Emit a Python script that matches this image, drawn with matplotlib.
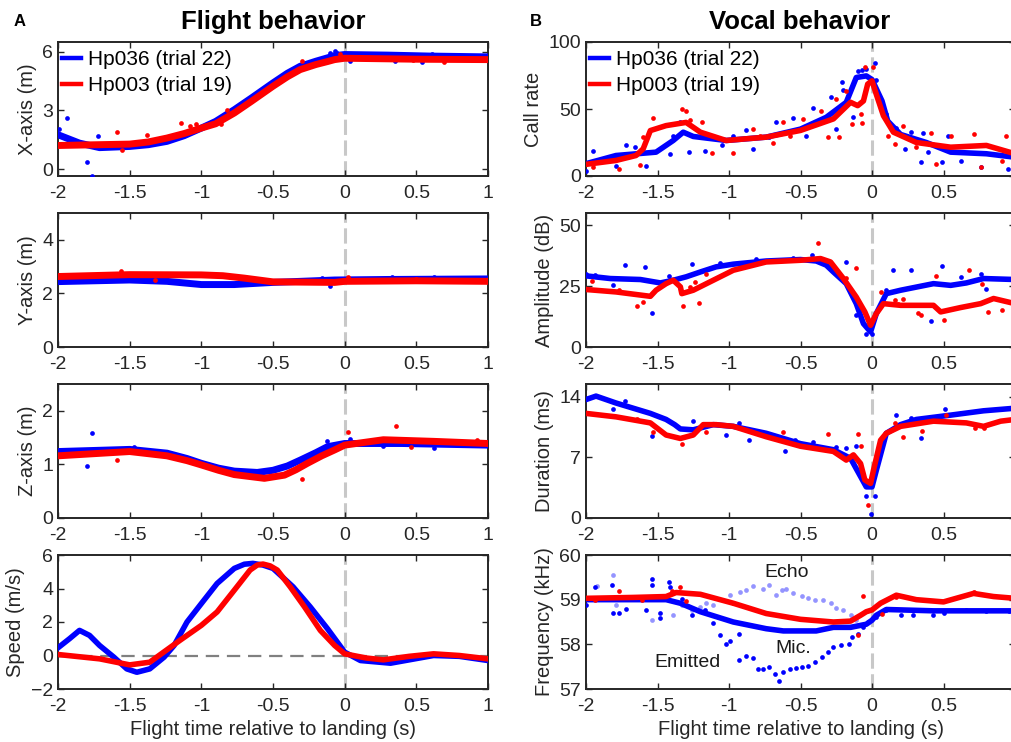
import numpy as np
import matplotlib.pyplot as plt

plt.rcParams['font.family'] = ['Liberation Sans', 'DejaVu Sans']
plt.rcParams['font.size'] = 14

BLUE = '#0000ff'
RED = '#ff0000'
INK = '#262626'

# ---------------- Flight behavior ----------------
# X-axis (m)
xpos_b_t = [-2.0, -1.85, -1.71, -1.5, -1.37, -1.24, -1.12, -1.0, -0.9, -0.77, -0.65, -0.5, -0.4, -0.31, -0.2, -0.12,
            -0.07, 0.0, 0.3, 0.6, 1.0]
xpos_b = [1.76, 1.33, 1.1, 1.16, 1.25, 1.42, 1.71, 2.1, 2.44, 3.04, 3.64, 4.41, 4.9, 5.26, 5.52, 5.69,
          5.8, 5.86, 5.83, 5.78, 5.74]
xpos_r_t = [-2.0, -1.5, -1.37, -1.24, -1.12, -1.0, -0.9, -0.77, -0.65, -0.5, -0.4, -0.31, -0.2, -0.12, -0.07, 0.0,
            0.5, 1.0]
xpos_r = [1.21, 1.28, 1.39, 1.59, 1.82, 2.1, 2.32, 2.87, 3.47, 4.24, 4.72, 5.09, 5.35, 5.5, 5.6, 5.67,
          5.62, 5.6]
xdot_b_t = [-1.99, -1.94, -1.80, -1.76, -1.72, -0.10, -0.07, -0.05, 0.04, 0.35, 0.54, 0.61, 0.79, 0.98]
xdot_b = [2.05, 2.6, 0.36, -0.34, 1.72, 5.95, 6.03, 5.95, 5.52, 5.55, 5.5, 5.9, 5.7, 5.75]
xdot_r_t = [-1.59, -1.55, -1.38, -1.14, -1.08, -1.04, -0.86, -0.82, -0.30, -0.03, 0.48, 0.69]
xdot_r = [1.9, 0.99, 1.76, 2.36, 2.22, 2.3, 2.32, 3.04, 5.52, 5.91, 5.6, 5.47]

# Y-axis (m)
ypos_b_t = [-2.0, -1.5, -1.24, -1.0, -0.77, -0.5, -0.07, 0.3, 1.0]
ypos_b = [2.44, 2.5, 2.45, 2.33, 2.33, 2.41, 2.5, 2.52, 2.54]
ypos_r_t = [-2.0, -1.5, -1.0, -0.85, -0.7, -0.5, -0.07, 0.0, 0.5, 1.0]
ypos_r = [2.63, 2.7, 2.69, 2.66, 2.57, 2.43, 2.41, 2.45, 2.47, 2.45]
ydot_b_t = [-0.16, -0.10, 0.33, 0.62]
ydot_b = [2.58, 2.29, 2.6, 2.6]
ydot_r_t = [-1.56, -1.32, 0.02, 0.5]
ydot_r = [2.85, 2.5, 2.6, 2.53]

# Z-axis (m)
zpos_b_t = [-2.0, -1.5, -1.24, -1.1, -1.0, -0.88, -0.77, -0.61, -0.5, -0.4, -0.31, -0.2, -0.12, 0.0, 0.4, 1.0]
zpos_b = [1.24, 1.28, 1.21, 1.11, 1.02, 0.93, 0.875, 0.85, 0.89, 0.97, 1.08, 1.22, 1.33, 1.39, 1.39, 1.36]
zpos_r_t = [-2.0, -1.5, -1.24, -1.1, -1.0, -0.88, -0.77, -0.56, -0.42, -0.34, -0.26, -0.16, -0.07, 0.0, 0.27, 0.62, 1.0]
zpos_r = [1.16, 1.24, 1.16, 1.07, 0.99, 0.89, 0.81, 0.74, 0.8, 0.9, 1.02, 1.16, 1.27, 1.36, 1.46, 1.43, 1.39]
zdot_b_t = [-1.76, -1.80, -1.47, -0.12, 0.04, 0.27, 0.62]
zdot_b = [1.58, 0.97, 1.33, 1.43, 1.48, 1.35, 1.3]
zdot_r_t = [-1.59, -0.30, 0.02, 0.36, 0.46, 0.92]
zdot_r = [1.09, 0.73, 1.61, 1.71, 1.33, 1.46]

# Speed (m/s)
spd_b_t = [-2.0, -1.92, -1.85, -1.78, -1.71, -1.61, -1.52, -1.45, -1.36, -1.26, -1.19, -1.1, -1.0, -0.89, -0.77,
           -0.7, -0.64, -0.57, -0.5, -0.36, -0.24, -0.12, 0.0, 0.11, 0.32, 0.62, 0.8, 1.0]
spd_b = [0.46, 1.0, 1.5, 1.2, 0.6, -0.1, -0.8, -1.0, -0.8, -0.1, 0.6, 2.0, 3.1, 4.3, 5.2,
         5.45, 5.5, 5.4, 5.2, 4.1, 2.9, 1.6, 0.2, -0.3, -0.46, 0.0, -0.05, -0.3]
spd_r_t = [-2.0, -1.71, -1.5, -1.36, -1.15, -1.0, -0.89, -0.77, -0.66, -0.61, -0.57, -0.52, -0.47, -0.38, -0.28, -0.17,
           -0.07, 0.0, 0.15, 0.27, 0.45, 0.62, 0.8, 1.0]
spd_r = [0.06, -0.2, -0.56, -0.4, 0.9, 1.8, 2.6, 3.9, 5.1, 5.4, 5.46, 5.35, 5.1, 4.1, 2.9, 1.5,
         0.6, 0.1, -0.15, -0.26, -0.05, 0.1, 0.0, -0.2]

# ---------------- Vocal behavior ----------------
# Call rate
rate_b_t = [-2.0, -1.79, -1.51, -1.39, -1.32, -1.25, -1.02, -0.74, -0.5, -0.32, -0.18, -0.11, -0.04, 0.0,
            0.07, 0.11, 0.2, 0.38, 0.55, 0.8, 1.0]
rate_b = [9.2, 15.3, 17.8, 26.5, 32.7, 29.5, 26.5, 29.0, 35.0, 43.8, 55.0, 73.5, 74.7, 72.0,
          56.0, 41.0, 31.0, 25.0, 17.8, 16.6, 14.0]
rate_r_t = [-2.0, -1.79, -1.65, -1.6, -1.55, -1.44, -1.3, -1.2, -1.02, -0.74, -0.5, -0.27, -0.15, -0.1, -0.06, -0.03,
            0.0, 0.03, 0.08, 0.15, 0.31, 0.55, 0.8, 1.0]
rate_r = [8.7, 11.6, 15.3, 20.3, 33.9, 37.6, 40.0, 32.7, 26.5, 29.0, 34.0, 42.6, 55.0, 52.5, 56.0, 68.6,
          71.0, 61.0, 45.0, 32.7, 25.0, 21.5, 22.8, 16.6]
rdot_b_t = [-2.0, -1.95, -1.79, -1.72, -1.66, -1.58, -1.41, -1.39, -1.34, -1.28, -1.17, -1.05, -0.97, -0.88, -0.83,
            -0.72, -0.67, -0.55, -0.46, -0.41, -0.34, -0.29, -0.25, -0.21, -0.2, -0.13, -0.1, -0.07, -0.04, 0.02,
            0.03, 0.1, 0.17, 0.23, 0.27, 0.34, 0.36, 0.39, 0.49, 0.53, 0.62, 0.76, 0.8, 0.95]
rdot_b = [3.7, 19.0, 7.4, 23.5, 22.0, 7.4, 16.6, 30.0, 40.6, 17.8, 18.6, 22.8, 29.7, 34.0, 20.0,
          29.0, 40.6, 43.0, 30.0, 50.5, 41.8, 58.7, 35.0, 70.5, 64.0, 43.8, 78.0, 79.0, 79.7, 84.6,
          72.0, 46.0, 35.6, 20.3, 32.7, 10.4, 32.0, 17.8, 10.4, 29.5, 11.0, 6.7, 23.5, 5.4]
rdot_r_t = [-1.95, -1.77, -1.62, -1.6, -1.53, -1.33, -1.3, -1.27, -1.19, -1.12, -0.97, -0.83, -0.78, -0.69, -0.62,
            -0.57, -0.48, -0.36, -0.31, -0.25, -0.23, -0.18, -0.14, -0.08, -0.07, -0.05, 0.01, 0.11, 0.16, 0.22,
            0.31, 0.41, 0.45, 0.55, 0.71, 0.76, 0.91, 0.94]
rdot_r = [6.7, 5.4, 7.9, 29.0, 43.0, 50.0, 48.8, 42.0, 40.0, 17.0, 17.0, 35.0, 29.7, 25.0, 40.0,
          30.0, 42.6, 48.8, 29.0, 57.4, 29.0, 63.6, 39.0, 46.0, 39.5, 81.0, 81.0, 30.0, 24.0, 37.6,
          21.5, 32.0, 9.2, 30.0, 31.4, 6.7, 11.0, 30.0]

# Amplitude (dB)
amp_b_t = [-2.0, -1.83, -1.62, -1.48, -1.39, -1.3, -1.2, -1.09, -0.97, -0.74, -0.5, -0.39, -0.32, -0.27, -0.18,
           -0.11, -0.06, -0.01, 0.03, 0.1, 0.2, 0.43, 0.55, 0.66, 0.78, 1.0]
amp_b = [29.2, 28.1, 27.7, 26.3, 27.4, 28.8, 30.8, 32.9, 34.0, 35.3, 35.9, 35.3, 33.6, 30.8, 26.0,
         17.8, 9.6, 6.2, 13.7, 21.9, 23.3, 26.0, 25.3, 26.3, 28.1, 27.7]
amp_r_t = [-2.0, -1.79, -1.55, -1.51, -1.44, -1.39, -1.34, -1.33, -1.25, -1.11, -0.97, -0.74, -0.5, -0.36, -0.29,
           -0.2, -0.11, -0.05, -0.01, 0.03, 0.08, 0.2, 0.43, 0.48, 0.62, 0.76, 0.85, 1.0]
amp_r = [23.6, 22.6, 20.8, 23.3, 26.0, 27.4, 24.7, 21.9, 23.3, 27.4, 31.5, 34.9, 35.6, 36.3, 34.9,
         28.1, 20.5, 14.4, 8.9, 13.7, 17.8, 17.1, 17.1, 14.4, 16.2, 17.8, 19.9, 17.8]
adot_b_t = [-2.0, -1.94, -1.81, -1.73, -1.59, -1.54, -1.42, -1.26, -1.06, -0.81, -0.55, -0.42, -0.18, -0.11,
            -0.04, 0.0, 0.1, 0.15, 0.27, 0.41, 0.49, 0.62, 0.76, 0.8]
adot_b = [30.0, 29.5, 25.3, 33.6, 32.9, 14.0, 29.0, 34.0, 34.5, 36.3, 36.7, 37.7, 35.0, 13.0,
          5.5, 5.5, 23.3, 31.5, 31.8, 10.7, 33.1, 28.8, 30.1, 24.0]
adot_r_t = [-1.96, -1.77, -1.64, -1.6, -1.32, -1.27, -1.24, -1.21, -1.16, -0.38, -0.18, -0.11, 0.06, 0.16,
            0.18, 0.22, 0.32, 0.34, 0.45, 0.5, 0.68, 0.77, 0.81, 0.91]
adot_r = [27.0, 23.6, 16.7, 18.5, 17.0, 24.7, 26.5, 18.0, 30.0, 42.7, 28.5, 32.6, 22.6, 19.2,
          17.8, 19.9, 14.0, 13.0, 29.0, 11.0, 31.5, 26.0, 14.4, 15.0]

# Duration (ms)
dur_b_t = [-2.0, -1.93, -1.79, -1.67, -1.55, -1.44, -1.38, -1.34, -1.25, -1.11, -0.97, -0.74, -0.5, -0.27, -0.15,
           -0.08, -0.04, 0.0, 0.03, 0.1, 0.2, 0.31, 0.55, 0.78, 1.0]
dur_b = [13.7, 14.1, 13.3, 12.7, 12.1, 11.4, 10.8, 10.3, 10.2, 10.8, 10.6, 9.8, 8.6, 7.9, 6.9,
         4.8, 3.6, 3.6, 5.5, 9.8, 10.8, 11.4, 11.9, 12.4, 12.7]
dur_r_t = [-2.0, -1.79, -1.55, -1.44, -1.34, -1.25, -1.18, -1.09, -0.97, -0.74, -0.5, -0.27, -0.18, -0.13, -0.08,
           -0.05, -0.01, 0.01, 0.06, 0.1, 0.2, 0.43, 0.66, 0.78, 0.9, 1.0]
dur_r = [12.1, 11.7, 11.0, 9.6, 9.2, 9.6, 10.8, 10.8, 10.6, 9.4, 8.3, 7.7, 6.7, 7.3, 6.3,
         4.4, 4.0, 5.5, 9.0, 9.8, 10.6, 11.2, 11.0, 10.6, 11.2, 11.4]
ddot_b_t = [-1.81, -1.73, -1.54, -1.25, -1.02, -0.93, -0.86, -0.61, -0.54, -0.41, -0.25, -0.18, -0.11,
            -0.04, -0.01, 0.02, 0.17, 0.27, 0.34, 0.36, 0.51, 0.62]
ddot_b = [12.6, 13.5, 9.5, 11.2, 9.6, 11.0, 9.0, 7.7, 9.0, 8.8, 8.2, 8.1, 8.3,
          2.6, 0.5, 2.6, 11.9, 11.6, 9.2, 11.6, 12.6, 12.2]
ddot_r_t = [-1.64, -1.53, -1.33, -1.16, -0.62, -0.31, -0.10, -0.08, -0.03, 0.16, 0.22, 0.35, 0.52, 0.72, 0.78]
ddot_r = [11.4, 10.0, 8.6, 9.9, 9.9, 9.7, 9.7, 8.3, 1.5, 11.0, 9.4, 10.1, 11.9, 10.4, 10.4]

# Frequency (kHz)
frq_b_t = [-2.0, -1.67, -1.44, -1.34, -1.2, -0.97, -0.74, -0.62, -0.39, -0.27, -0.15, -0.04, 0.0, 0.03, 0.1, 0.43, 1.0]
frq_b = [59.0, 59.0, 59.0, 58.92, 58.73, 58.5, 58.35, 58.3, 58.3, 58.38, 58.38, 58.45, 58.54, 58.65, 58.78, 58.75, 58.75]
frq_r_t = [-2.0, -1.67, -1.44, -1.37, -1.2, -0.97, -0.74, -0.5, -0.27, -0.15, -0.08, -0.04, 0.0, 0.06, 0.17, 0.31,
           0.5, 0.71, 0.85, 1.0]
frq_r = [59.03, 59.05, 59.07, 59.16, 59.12, 58.92, 58.69, 58.56, 58.5, 58.52, 58.65, 58.73, 58.77, 58.92, 59.1, 59.0,
         58.95, 59.14, 59.07, 59.03]
mic_t = [-2.0, -1.94, -1.82, -1.81, -1.77, -1.72, -1.58, -1.54, -1.54, -1.48, -1.48, -1.42, -1.41, -1.33, -1.26,
         -1.17, -1.11, -1.06, -1.02, -0.99, -0.93, -0.93, -0.88, -0.83, -0.80, -0.76, -0.72, -0.68, -0.65, -0.62,
         -0.57, -0.53, -0.49, -0.45, -0.40, -0.35, -0.31, -0.27, -0.22, -0.16, -0.14, -0.10, -0.06, -0.03]
mic = [58.88, 59.28, 59.33, 58.7, 58.7, 58.8, 58.76, 59.46, 59.33, 58.7, 58.6, 59.4, 59.29, 59.02, 58.66,
       58.77, 58.47, 58.2, 58.0, 58.08, 58.24, 57.66, 57.75, 57.7, 57.45, 57.45, 57.5, 57.34, 57.19, 57.38,
       57.45, 57.48, 57.5, 57.52, 57.6, 57.71, 57.83, 57.94, 57.98, 58.0, 58.17, 58.24, 58.38, 58.5]
echo_t = [-1.92, -1.81, -1.79, -1.54, -1.39, -1.33, -1.26, -1.20, -1.16, -1.11, -0.99, -0.92, -0.88, -0.83,
          -0.76, -0.72, -0.67, -0.63, -0.60, -0.55, -0.49, -0.45, -0.40, -0.34, -0.29, -0.25, -0.20, -0.15, -0.11]
echo = [59.3, 59.56, 58.88, 58.54, 58.66, 58.88, 58.77, 58.84, 58.92, 58.88, 59.1, 59.18, 59.22, 59.3,
        59.23, 59.33, 59.1, 59.21, 59.24, 59.16, 59.08, 59.03, 58.99, 58.99, 58.92, 58.81, 58.77, 58.66, 58.54]
fdot_b_t = [0.03, 0.1, 0.2, 0.29, 0.43, 0.5, 0.66, 0.8, 0.96]
fdot_b = [58.62, 58.77, 58.66, 58.66, 58.66, 58.7, 58.76, 58.74, 58.74]
fdot_r_t = [-1.94, -1.77, -1.61, -1.40, -1.34, -1.30, -1.20, -0.97, -0.06, -0.10, 0.07, 0.17, 0.71]
fdot_r = [59.0, 59.2, 59.0, 59.2, 59.28, 58.97, 59.12, 58.92, 59.08, 58.2, 58.69, 59.05, 59.18]

LABEL_B = 'Hp036 (trial 22)'
LABEL_R = 'Hp003 (trial 19)'
XTICKS = [-2, -1.5, -1, -0.5, 0, 0.5, 1]
XTICKLABELS = ['-2', '-1.5', '-1', '-0.5', '0', '0.5', '1']

fig = plt.figure(figsize=(10.11, 7.42), dpi=100)

W, H = 1011.0, 742.0
rows_px = [(42, 176), (213, 347), (384, 518), (555, 689)]
left_px = (58, 488)
right_px = (586, 1015)


def make_ax(cols, row, last_label=True):
    top, bot = rows_px[row]
    ax = fig.add_axes([cols[0] / W, 1 - bot / H, (cols[1] - cols[0]) / W, (bot - top) / H])
    for s in ax.spines.values():
        s.set_linewidth(1.4)
        s.set_color(INK)
    ax.tick_params(direction='in', length=4, width=1.0, colors=INK, labelsize=14,
                   top=True, right=True)
    ax.tick_params(axis='x', pad=6.5)
    ax.tick_params(axis='y', pad=3.5)
    ax.set_xlim(-2, 1)
    ax.set_xticks(XTICKS)
    labels = list(XTICKLABELS)
    if not last_label:
        labels[-1] = ''
    ax.set_xticklabels(labels)
    ax.axvline(0, color='#c8c8c8', lw=2.2, ls=(0, (5, 1.8)), zorder=1)
    return ax


def draw(ax, tb, yb, tr, yr, db=None, dr=None, lw=4.0):
    if db is not None:
        ax.plot(db[0], db[1], 'o', color=BLUE, ms=3.4, mew=0, zorder=3)
    ax.plot(tb, yb, color=BLUE, lw=lw, solid_joinstyle='round', zorder=4, label=LABEL_B)
    if dr is not None:
        ax.plot(dr[0], dr[1], 'o', color=RED, ms=3.4, mew=0, zorder=5)
    ax.plot(tr, yr, color=RED, lw=lw, solid_joinstyle='round', zorder=6, label=LABEL_R)


def legend(ax):
    leg = ax.legend(loc='upper left', bbox_to_anchor=(0.0, 0.97), frameon=False, fontsize=15,
                    handlelength=0.9, handletextpad=0.35, labelspacing=0.33, borderaxespad=0.0,
                    borderpad=0.2)
    for ln in leg.get_lines():
        ln.set_linewidth(3.2)


def ylab(ax, text):
    ax.set_ylabel(text, color=INK, fontsize=14.5, labelpad=4)


def xlab(ax):
    ax.set_xlabel('Flight time relative to landing (s)', color=INK, fontsize=14.5, labelpad=3.5)


# Left column
ax = make_ax(left_px, 0)
draw(ax, xpos_b_t, xpos_b, xpos_r_t, xpos_r, (xdot_b_t, xdot_b), (xdot_r_t, xdot_r), lw=5)
ax.set_ylim(-0.35, 6.5)
ax.set_yticks([0, 3, 6])
ylab(ax, 'X-axis (m)')
legend(ax)

ax = make_ax(left_px, 1)
draw(ax, ypos_b_t, ypos_b, ypos_r_t, ypos_r, (ydot_b_t, ydot_b), (ydot_r_t, ydot_r), lw=5)
ax.set_ylim(0, 5)
ax.set_yticks([0, 2, 4])
ylab(ax, 'Y-axis (m)')

ax = make_ax(left_px, 2)
draw(ax, zpos_b_t, zpos_b, zpos_r_t, zpos_r, (zdot_b_t, zdot_b), (zdot_r_t, zdot_r), lw=5)
ax.set_ylim(0, 2.5)
ax.set_yticks([0, 1, 2])
ylab(ax, 'Z-axis (m)')

ax = make_ax(left_px, 3)
ax.axhline(0, color='#808080', lw=1.6, ls=(0, (6, 3.5)), zorder=2)
draw(ax, spd_b_t, spd_b, spd_r_t, spd_r, lw=4)
ax.set_ylim(-2, 6)
ax.set_yticks([-2, 0, 2, 4, 6])
ylab(ax, 'Speed (m/s)')
xlab(ax)

# Right column
ax = make_ax(right_px, 0, last_label=False)
draw(ax, rate_b_t, rate_b, rate_r_t, rate_r, (rdot_b_t, rdot_b), (rdot_r_t, rdot_r))
ax.set_ylim(0, 100)
ax.set_yticks([0, 50, 100])
ylab(ax, 'Call rate')
legend(ax)

ax = make_ax(right_px, 1, last_label=False)
draw(ax, amp_b_t, amp_b, amp_r_t, amp_r, (adot_b_t, adot_b), (adot_r_t, adot_r))
ax.set_ylim(0, 55)
ax.set_yticks([0, 25, 50])
ylab(ax, 'Amplitude (dB)')

ax = make_ax(right_px, 2, last_label=False)
draw(ax, dur_b_t, dur_b, dur_r_t, dur_r, (ddot_b_t, ddot_b), (ddot_r_t, ddot_r))
ax.set_ylim(0, 15.5)
ax.set_yticks([0, 7, 14])
ylab(ax, 'Duration (ms)')

ax = make_ax(right_px, 3, last_label=False)
ax.plot(echo_t, echo, 'o', color='#7070ff', alpha=0.75, ms=3.4, mew=0, zorder=2)
ax.plot(mic_t, mic, 'o', color=BLUE, ms=3.4, mew=0, zorder=3)
draw(ax, frq_b_t, frq_b, frq_r_t, frq_r, (fdot_b_t, fdot_b), (fdot_r_t, fdot_r))
ax.set_ylim(57, 60)
ax.set_yticks([57, 58, 59, 60])
ylab(ax, 'Frequency (kHz)')
xlab(ax)
ax.text(-0.6, 59.6, 'Echo', fontsize=14, color='#1a1a1a', ha='center', va='center', zorder=7)
ax.text(-0.55, 57.9, 'Mic.', fontsize=14, color='#1a1a1a', ha='center', va='center', zorder=7)
ax.text(-1.29, 57.6, 'Emitted', fontsize=14, color='#1a1a1a', ha='center', va='center', zorder=7)

# Titles and panel letters
fig.text(273 / W, 1 - 22 / H, 'Flight behavior', fontsize=18.5, fontweight='bold', ha='center', va='center')
fig.text(800 / W, 1 - 22 / H, 'Vocal behavior', fontsize=18.5, fontweight='bold', ha='center', va='center')
fig.text(20 / W, 1 - 22 / H, 'A', fontsize=12, fontweight='bold', ha='center', va='center')
fig.text(536 / W, 1 - 22 / H, 'B', fontsize=12, fontweight='bold', ha='center', va='center')

fig.savefig('out.png', dpi=100)
